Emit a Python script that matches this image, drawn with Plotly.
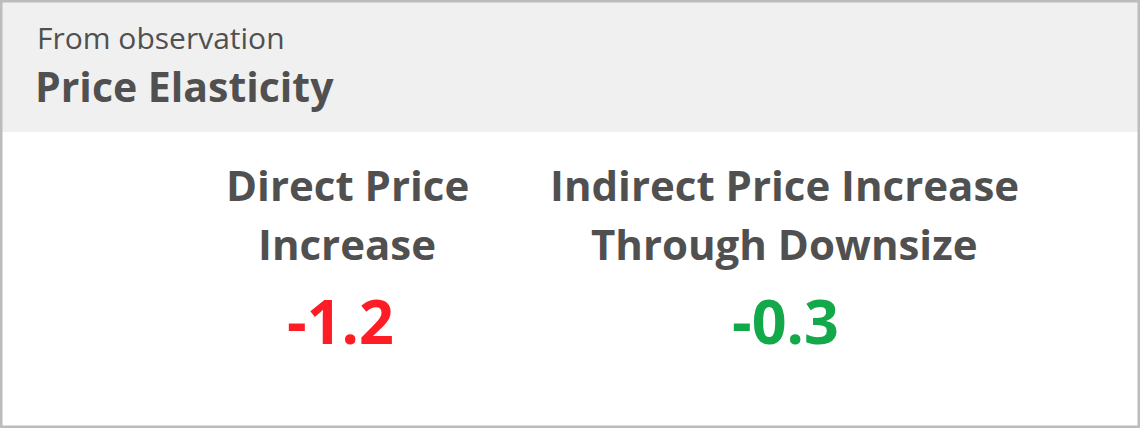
import plotly.graph_objects as go

W, H = 1140, 428

subtitle = "From observation"
title = "Price Elasticity"
kpi_labels = ["Direct Price<br>Increase", "Indirect Price Increase<br>Through Downsize"]
kpi_values = [-1.2, -0.3]
kpi_colors = ["#ff1d25", "#13a84a"]

# horizontal centres in px (labels / numbers)
label_cx = [347, 784]
value_cx = [340, 785]

FONT = "Open Sans"
GREY = "#505050"


def py(px_from_top):
    # pixel from top -> paper coordinate
    return 1 - px_from_top / H


fig = go.Figure()

fig.update_layout(
    width=W, height=H,
    margin=dict(l=0, r=0, t=0, b=0),
    paper_bgcolor="white", plot_bgcolor="white",
    xaxis=dict(visible=False, range=[0, 1]),
    yaxis=dict(visible=False, range=[0, 1]),
    showlegend=False,
)

# header band + outer border
fig.add_shape(type="rect", xref="paper", yref="paper",
              x0=0, x1=1, y0=py(132), y1=1,
              fillcolor="#f0f0f0", line=dict(width=0), layer="below")
fig.add_shape(type="rect", xref="paper", yref="paper",
              x0=1 / W, x1=1 - 1 / W, y0=1 / H, y1=1 - 1 / H,
              fillcolor="rgba(0,0,0,0)", line=dict(color="#bcbcbc", width=3))

fig.add_annotation(text=subtitle, xref="paper", yref="paper",
                   x=35 / W, y=py(37), xanchor="left", yanchor="middle",
                   showarrow=False, font=dict(family=FONT, size=30, color=GREY))
fig.add_annotation(text="<b>%s</b>" % title, xref="paper", yref="paper",
                   x=33 / W, y=py(86), xanchor="left", yanchor="middle",
                   showarrow=False, font=dict(family=FONT, size=41, color=GREY))

line_y = [185, 244]
for lab, val, col, lx, vx in zip(kpi_labels, kpi_values, kpi_colors, label_cx, value_cx):
    for part, ly in zip(lab.split("<br>"), line_y):
        fig.add_annotation(text="<b>%s</b>" % part, xref="paper", yref="paper",
                           x=lx / W, y=py(ly), xanchor="center", yanchor="middle",
                           showarrow=False, font=dict(family=FONT, size=42, color=GREY))
    fig.add_annotation(text="<b>%.1f</b>" % val, xref="paper", yref="paper",
                       x=vx / W, y=py(320), xanchor="center", yanchor="middle",
                       showarrow=False, font=dict(family=FONT, size=61, color=col))

fig.write_html("out.html", config={"displayModeBar": False},
               post_script="document.body.style.margin='0';")
